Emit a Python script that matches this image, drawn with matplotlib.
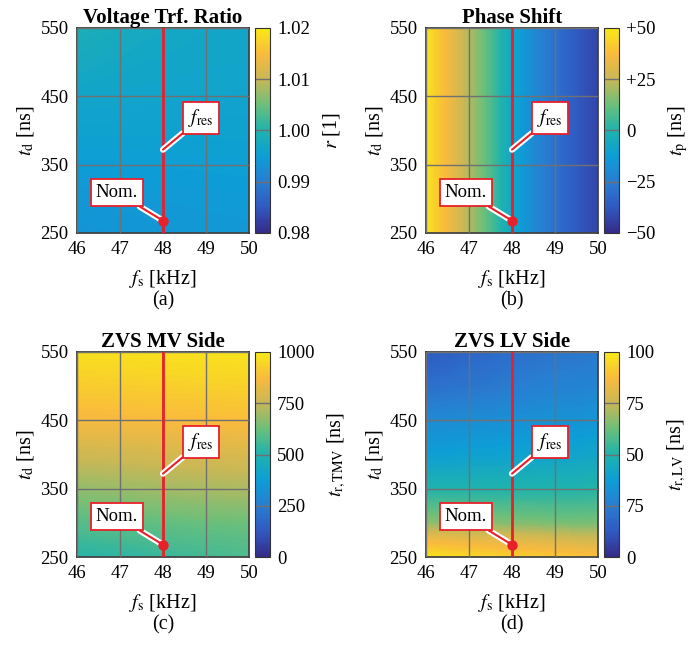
import numpy as np
import matplotlib
matplotlib.use('Agg')
import matplotlib.pyplot as plt
import matplotlib.patheffects as pe
from matplotlib.colors import LinearSegmentedColormap

plt.rcParams['font.family'] = ['Liberation Serif', 'DejaVu Serif']
plt.rcParams['mathtext.fontset'] = 'stix'
plt.rcParams['font.size'] = 12

# approx. MATLAB parula (sampled from the reference colorbar)
parula = LinearSegmentedColormap.from_list('parula', [
    (0.0, (0.208, 0.166, 0.529)),
    (0.125, (0.19, 0.35, 0.76)),
    (0.25, (0.16, 0.49, 0.82)),
    (0.375, (0.05, 0.62, 0.84)),
    (0.5, (0.12, 0.70, 0.68)),
    (0.625, (0.42, 0.75, 0.48)),
    (0.75, (0.78, 0.72, 0.34)),
    (0.875, (0.98, 0.73, 0.24)),
    (1.0, (0.97, 0.92, 0.08)),
])

# grid
fs = [46, 46.5, 47, 47.5, 48, 48.5, 49, 49.5, 50]
td = [250, 275, 300, 350, 400, 450, 500, 550]

# voltage transfer ratio r [1]
r = [
    [0.9935, 0.9936, 0.9937, 0.9938, 0.9939, 0.9940, 0.9941, 0.9941, 0.9942],
    [0.9937, 0.9938, 0.9939, 0.9940, 0.9941, 0.9942, 0.9943, 0.9943, 0.9944],
    [0.9940, 0.9941, 0.9942, 0.9943, 0.9944, 0.9944, 0.9945, 0.9945, 0.9946],
    [0.9948, 0.9949, 0.9949, 0.9950, 0.9950, 0.9951, 0.9951, 0.9952, 0.9952],
    [0.9958, 0.9958, 0.9958, 0.9958, 0.9958, 0.9958, 0.9958, 0.9958, 0.9958],
    [0.9967, 0.9966, 0.9965, 0.9965, 0.9964, 0.9964, 0.9963, 0.9963, 0.9962],
    [0.9977, 0.9974, 0.9972, 0.9970, 0.9969, 0.9968, 0.9967, 0.9967, 0.9966],
    [0.9990, 0.9984, 0.9979, 0.9976, 0.9974, 0.9972, 0.9970, 0.9969, 0.9968],
]

# phase shift t_p [ns]
tp_row = [48, 36, 22, 8, -8, -20, -29, -37, -43]
tp = [tp_row for _ in td]

# ZVS MV side t_r,TMV [ns]
tmv = [
    [510, 517, 525, 533, 542, 550, 558, 566, 575],
    [550, 556, 562, 569, 575, 581, 587, 592, 598],
    [590, 595, 600, 605, 610, 615, 620, 622, 625],
    [675, 680, 686, 692, 698, 702, 705, 708, 712],
    [765, 768, 772, 775, 780, 783, 785, 788, 792],
    [860, 862, 865, 867, 870, 872, 875, 877, 880],
    [918, 920, 922, 924, 926, 928, 930, 930, 932],
    [965, 966, 968, 969, 970, 971, 972, 973, 975],
]

# ZVS LV side t_r,LV [ns]
tlv = [
    [98, 96, 95, 94, 93, 92, 91, 90, 89],
    [85, 84, 83, 82, 81, 80, 79, 78, 77],
    [67, 67, 66, 66, 65, 65, 64, 64, 64],
    [50, 50, 50, 50, 50, 50, 50, 50, 51],
    [38, 38, 39, 39, 40, 40, 41, 41, 42],
    [30, 30, 31, 31, 32, 32, 33, 33, 34],
    [20, 21, 22, 23, 25, 26, 27, 27, 28],
    [14, 15, 17, 18, 20, 21, 22, 23, 24],
]

panels = [
    ('Voltage Trf. Ratio', r, (0.98, 1.02), [0.98, 0.99, 1.00, 1.01, 1.02],
     ['0.98', '0.99', '1.00', '1.01', '1.02'], r'$r$ [1]', '(a)'),
    ('Phase Shift', tp, (-50, 50), [-50, -25, 0, 25, 50],
     ['\u221250', '\u221225', '0', '+25', '+50'], r'$t_\mathrm{p}$ [ns]', '(b)'),
    ('ZVS MV Side', tmv, (0, 1000), [0, 250, 500, 750, 1000],
     ['0', '250', '500', '750', '1000'], r'$t_\mathrm{r,TMV}$ [ns]', '(c)'),
    ('ZVS LV Side', tlv, (0, 100), [0, 25, 50, 75, 100],
     ['0', '75', '50', '75', '100'], r'$t_\mathrm{r,LV}$ [ns]', '(d)'),
]

nom = (48, 268)
res_pt = (48, 372)

W, H = 696, 650
fig = plt.figure(figsize=(W / 100, H / 100), dpi=100)

# pixel positions: (axes left, axes top)
origins = [(77, 28), (426, 28), (77, 352), (426, 352)]
aw, ah = 172, 205

for (title, Z, lim, cticks, clabels, clab, sub), (x0, y0) in zip(panels, origins):
    ax = fig.add_axes([x0 / W, 1 - (y0 + ah) / H, aw / W, ah / H])
    levels = np.linspace(lim[0], lim[1], 121)
    cs = ax.contourf(fs, td, Z, levels=levels, cmap=parula, vmin=lim[0], vmax=lim[1])
    ax.set_xlim(46, 50)
    ax.set_ylim(250, 550)
    ax.set_xticks([46, 47, 48, 49, 50])
    ax.set_yticks([250, 350, 450, 550])
    ax.grid(True, color='#707070', lw=1)
    ax.set_axisbelow(False)
    ax.tick_params(length=0, labelsize=13.5, pad=6)
    for s in ax.spines.values():
        s.set_color('#333333')
        s.set_linewidth(1.2)
    ax.set_title(title, fontweight='bold', fontsize=15, pad=2)
    ax.set_xlabel(r'$f_\mathrm{s}$ [kHz]', fontsize=14.5, labelpad=7)
    ax.set_ylabel(r'$t_\mathrm{d}$ [ns]', fontsize=14.5, labelpad=3)
    ax.text(0.5, -0.285, sub, transform=ax.transAxes, ha='center', va='top', fontsize=14.5)

    ax.axvline(48, color='#e8202a', lw=2, zorder=5)

    stroke = [pe.Stroke(linewidth=4.5, foreground='white'), pe.Normal()]
    bbox = dict(boxstyle='square,pad=0.25', fc='white', ec='#e8202a', lw=1.3)
    ax.annotate('Nom.', xy=nom, xytext=(46.93, 309), ha='center', va='center',
                fontsize=13.5, bbox=bbox, zorder=7,
                arrowprops=dict(arrowstyle='-', color='#e8202a', lw=1.5,
                                shrinkA=0, shrinkB=0, path_effects=stroke))
    ax.annotate(r'$f_\mathrm{res}$', xy=res_pt, xytext=(48.88, 418), ha='center', va='center',
                fontsize=14, bbox=bbox, zorder=7,
                arrowprops=dict(arrowstyle='-', color='#e8202a', lw=1.5,
                                shrinkA=0, shrinkB=0, path_effects=stroke))
    ax.plot(*nom, 'o', color='#e8202a', ms=6.5, zorder=9)

    cax = fig.add_axes([(x0 + 178) / W, 1 - (y0 + ah) / H, 15 / W, ah / H])
    cb = fig.colorbar(cs, cax=cax, ticks=cticks)
    cb.ax.set_yticklabels(clabels)
    cb.ax.tick_params(length=0, labelsize=13.5, pad=5)
    for t in cticks[1:-1]:
        cax.axhline(t, color='#707070', lw=1)
    cb.outline.set_edgecolor('#333333')
    cb.set_label(clab, fontsize=14.5, labelpad=8)

fig.savefig('out.png', dpi=100)
